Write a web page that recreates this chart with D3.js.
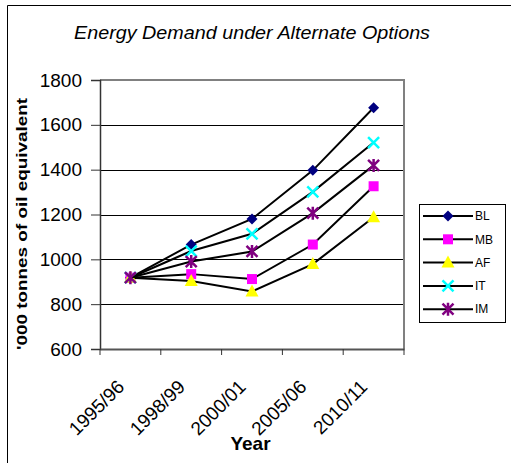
<!DOCTYPE html>
<html><head><meta charset="utf-8">
<script src="https://cdn.jsdelivr.net/npm/d3@7"></script>
<style>body{margin:0;background:#fff}svg{display:block;font-family:Arial,"Liberation Sans",sans-serif}</style>
</head><body>
<svg id="c" width="511" height="463"></svg>
<script>
const title = "Energy Demand under Alternate Options";
const yTitle = "'000 tonnes of oil equivalent";
const xTitle = "Year";
const categories = ["1995/96","1998/99","2000/01","2005/06","2010/11"];
const seriesNames = ["BL","MB","AF","IT","IM"];
const BL = [918, 1066, 1180, 1397, 1676];
const MB = [918, 934, 912, 1066, 1326];
const AF = [918, 903, 857, 979, 1188];
const IT = [918, 1037, 1114, 1301, 1521];
const IM = [918, 990, 1035, 1206, 1419];
const yTicks = [600,800,1000,1200,1400,1600,1800];
const colors = ["#000080","#FF00FF","#FFFF00","#00FFFF","#800080"];
const shapes = ["diamond","square","triangle","x","star"];
const values = [BL, MB, AF, IT, IM];

const svg = d3.select("#c");
svg.append("path").attr("d","M7.5,470 V5.5 H520").attr("fill","none").attr("stroke","#000").attr("stroke-width",1);

const L=100, R=404, T=80, B=349;
const x = d3.scaleBand().domain(categories).range([L,R]);
const y = d3.scaleLinear().domain([600,1800]).range([B,T]);

svg.append("g").selectAll("line").data(yTicks.slice(1)).join("line")
  .attr("x1",L).attr("x2",R).attr("y1",d=>Math.round(y(d))+0.5).attr("y2",d=>Math.round(y(d))+0.5)
  .attr("stroke","#000").attr("stroke-width",1);
svg.append("path").attr("d",`M${L},${T} H${R} V${B}`).attr("fill","none").attr("stroke","#808080").attr("stroke-width",2);

const ya = svg.append("g").attr("transform",`translate(${L},0)`)
  .call(d3.axisLeft(y).tickValues(yTicks).tickFormat(d3.format("d")).tickSize(9).tickPadding(9));
ya.select(".domain").attr("stroke","#333").attr("stroke-width",1.5);
ya.selectAll(".tick line").attr("stroke","#333");
ya.selectAll("text").attr("font-size",19).attr("font-family","Arial,'Liberation Sans',sans-serif").attr("fill","#000");

const xa = svg.append("g").attr("transform",`translate(0,${B})`)
  .call(d3.axisBottom(x).tickSize(0).tickFormat(""));
xa.select(".domain").attr("stroke","#555").attr("stroke-width",2);
const bounds = [L].concat(categories.map(c=>x(c)+x.bandwidth()));
svg.append("g").selectAll("line").data(bounds).join("line")
  .attr("x1",d=>d).attr("x2",d=>d).attr("y1",B).attr("y2",B+6).attr("stroke","#333").attr("stroke-width",1);
svg.append("g").selectAll("text").data(categories).join("text")
  .attr("transform",d=>`translate(${x(d)+x.bandwidth()/2-5},${B+39}) rotate(-45)`)
  .attr("text-anchor","end").attr("font-size",19).text(d=>d);

svg.append("text").attr("x",252).attr("y",39).attr("text-anchor","middle").attr("font-size",18)
  .attr("font-style","italic").attr("textLength",356).attr("lengthAdjust","spacingAndGlyphs").text(title);
svg.append("text").attr("transform",`translate(27,224) rotate(-90)`).attr("text-anchor","middle").attr("font-size",15)
  .attr("font-weight","bold").attr("textLength",252).attr("lengthAdjust","spacingAndGlyphs").text(yTitle);
svg.append("text").attr("x",250.5).attr("y",450).attr("text-anchor","middle").attr("font-size",19).attr("font-weight","bold").text(xTitle);

function marker(g, shape, color, cx, cy){
  if(shape==="diamond") g.append("path").attr("d",`M${cx},${cy-5.5}L${cx+5.5},${cy}L${cx},${cy+5.5}L${cx-5.5},${cy}Z`).attr("fill",color);
  else if(shape==="square") g.append("rect").attr("x",cx-5).attr("y",cy-5).attr("width",10).attr("height",10).attr("fill",color);
  else if(shape==="triangle") g.append("path").attr("d",`M${cx},${cy-7}L${cx+6.5},${cy+5}L${cx-6.5},${cy+5}Z`).attr("fill",color);
  else if(shape==="x") g.append("path").attr("d",`M${cx-5.5},${cy-5.5}L${cx+5.5},${cy+5.5}M${cx+5.5},${cy-5.5}L${cx-5.5},${cy+5.5}`).attr("stroke",color).attr("stroke-width",2.5);
  else if(shape==="star") g.append("path").attr("d",`M${cx-5.5},${cy-5.5}L${cx+5.5},${cy+5.5}M${cx+5.5},${cy-5.5}L${cx-5.5},${cy+5.5}M${cx},${cy-6.5}L${cx},${cy+6.5}`).attr("stroke",color).attr("stroke-width",2.5);
}

const line = d3.line().x((d,i)=>x(categories[i])+x.bandwidth()/2).y(d=>y(d));
values.forEach((vals,si)=>{
  const g = svg.append("g");
  g.append("path").attr("d",line(vals)).attr("fill","none").attr("stroke","#000").attr("stroke-width",2);
  vals.forEach((v,i)=>marker(g, shapes[si], colors[si], x(categories[i])+x.bandwidth()/2, y(v)));
});

const lg = svg.append("g");
lg.append("rect").attr("x",419.5).attr("y",204.5).attr("width",86).attr("height",118).attr("fill","#fff").attr("stroke","#000").attr("stroke-width",1);
seriesNames.forEach((n,i)=>{
  const ly = 216 + i*23.3;
  lg.append("line").attr("x1",423).attr("x2",473).attr("y1",ly).attr("y2",ly).attr("stroke","#000").attr("stroke-width",2);
  marker(lg, shapes[i], colors[i], 448, ly);
  lg.append("text").attr("x",475).attr("y",ly).attr("dy","0.35em").attr("font-size",12).text(n);
});
</script>
</body></html>
